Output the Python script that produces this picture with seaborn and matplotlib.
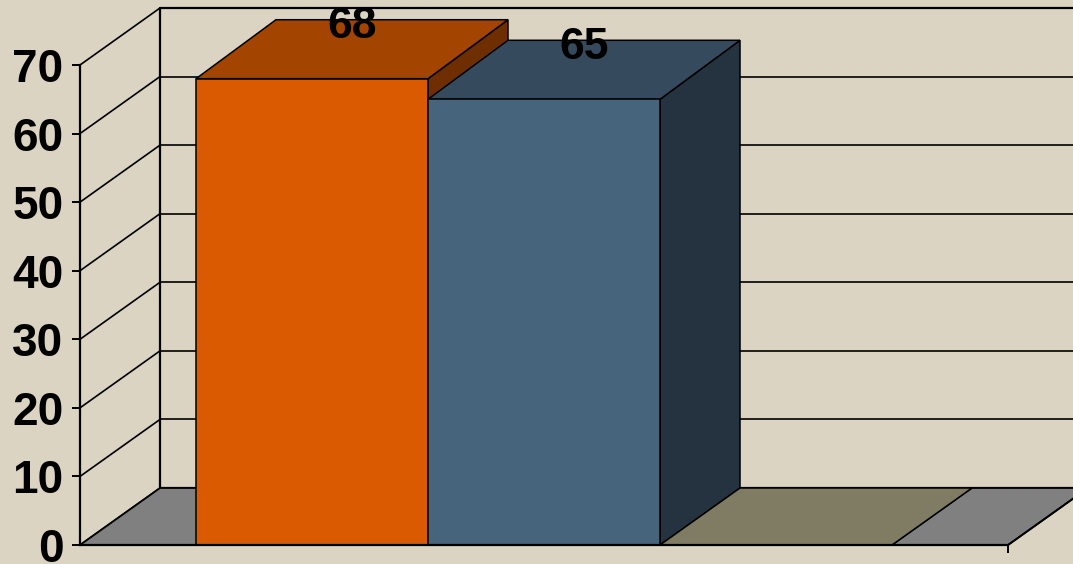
import matplotlib
matplotlib.use("Agg")
import matplotlib.pyplot as plt
import matplotlib.colors as mcolors
from matplotlib.patches import Polygon
import numpy as np
import pandas as pd
import seaborn as sns

# ---- data ----
series = ["Series A", "Series B", "Series C"]
values = [68, 65, 0]
front_colors = ["#D95A00", "#46647C", "#ABA484"]
yticks = [0, 10, 20, 30, 40, 50, 60, 70]

BG = "#DBD4C3"
FLOOR = "#808080"

sns.set_theme(style="white")
plt.rcParams["font.family"] = ["Liberation Sans", "DejaVu Sans"]
plt.rcParams["text.color"] = "black"
plt.rcParams["ytick.color"] = "black"
plt.rcParams["xtick.color"] = "black"

W, H = 1073, 564
fig = plt.figure(figsize=(W / 100, H / 100), dpi=100, facecolor=BG)
ax = fig.add_axes([80 / W, 19 / H, 928 / W, 545 / H])
ax.set_facecolor("none")

df = pd.DataFrame({"series": series, "value": values})
sns.barplot(data=df, x="series", y="value", hue="series", palette=front_colors,
            width=1.0, legend=False, ax=ax, edgecolor="black", linewidth=1.1,
            saturation=1)

ax.set_xlim(-1, 3)
px_per_unit = 480 / 70
ax.set_ylim(0, 545 / px_per_unit)

# depth offsets in data units
dx = 80 / 232
dy = 57 / px_per_unit
dy_bar = 59 / px_per_unit
x0, x1 = ax.get_xlim()

# back wall gridlines + left wall diagonals
for v in yticks:
    ax.plot([x0, x0 + dx], [v, v + dy], color="black", lw=1.2, clip_on=False, zorder=0.5)
    ax.plot([x0 + dx, x1 + 2 * dx], [v + dy, v + dy], color="black",
            lw=1.6 if v in (0, 70) else 1.2, clip_on=False, zorder=0.5)
ax.plot([x0 + dx, x0 + dx], [dy, yticks[-1] + dy], color="black", lw=1.6, clip_on=False, zorder=0.5)

# floor
floor = Polygon([(x0, 0), (x1, 0), (x1 + dx, dy), (x0 + dx, dy)], closed=True,
                facecolor=FLOOR, edgecolor="black", lw=1.3, zorder=1, clip_on=False)
ax.add_patch(floor)


def shade(c, f):
    r, g, b = mcolors.to_rgb(c)
    return (r * f, g * f, b * f)


bars = [p for p in ax.patches if p is not floor]
bars.sort(key=lambda p: p.get_x())
for i, (p, col) in enumerate(zip(bars, front_colors)):
    x, w, h = p.get_x(), p.get_width(), p.get_height()
    base_z = 2 + 2 * i
    p.set_zorder(base_z + 1)
    p.set_clip_on(False)
    ddy = dy_bar if h > 0 else dy
    top = Polygon([(x, h), (x + w, h), (x + w + dx, h + ddy), (x + dx, h + ddy)], closed=True,
                  facecolor=shade(col, 0.75), edgecolor="black", lw=1.1, zorder=base_z,
                  clip_on=False)
    side = Polygon([(x + w, 0), (x + w + dx, dy), (x + w + dx, h + ddy), (x + w, h)], closed=True,
                   facecolor=shade(col, 0.51), edgecolor="black", lw=1.1, zorder=base_z,
                   clip_on=False)
    ax.add_patch(side)
    ax.add_patch(top)
    if h > 0:
        ax.annotate(f"{values[i]:g}", xy=(x + w / 2 + dx / 2, h + ddy), xytext=(0, -5),
                    textcoords="offset points", ha="center", va="center",
                    fontsize=32, fontweight="bold", color="black", zorder=20,
                    annotation_clip=False)

# axes styling
for s in ["top", "right"]:
    ax.spines[s].set_visible(False)
ax.spines["left"].set_bounds(0, yticks[-1])
ax.spines["left"].set_linewidth(1.6)
ax.spines["left"].set_color("black")
ax.spines["left"].set_zorder(15)
ax.spines["bottom"].set_linewidth(1.6)
ax.spines["bottom"].set_color("black")
ax.spines["bottom"].set_zorder(15)

ax.set_yticks(yticks)
ax.set_yticklabels([str(v) for v in yticks], fontsize=33, fontweight="bold", color="black")
ax.tick_params(axis="y", direction="out", length=6, width=1.4, color="black", pad=6, left=True,
               labelcolor="black")
ax.set_xticks([x1])
ax.set_xticklabels([""])
ax.tick_params(axis="x", direction="out", length=6, width=1.4, color="black", bottom=True)
ax.set_xlabel("")
ax.set_ylabel("")

# right edge of floor
ax.plot([x1, x1 + dx], [0, dy], color="black", lw=1.3, clip_on=False, zorder=1.5)

fig.savefig("out.png", dpi=100, facecolor=BG)
